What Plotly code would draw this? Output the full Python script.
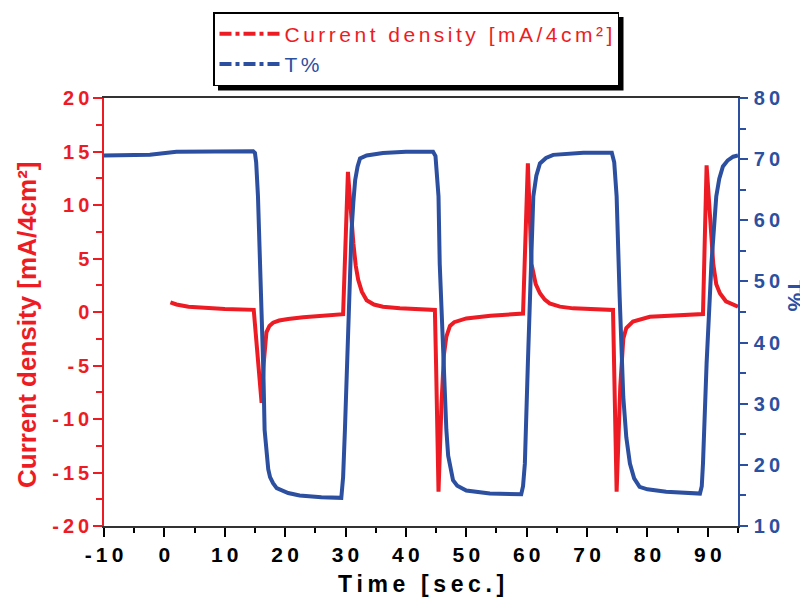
import plotly.graph_objects as go

# Current density [mA/4cm^2] vs time
t_cur = [1.0, 2, 4, 7, 10, 14.8, 16.1, 16.5, 16.9, 17.4, 18.0, 19, 20.5, 23, 26, 29.6,
         30.4, 30.8, 31.3, 31.7, 32.1, 32.7, 33.5, 34.7, 36.2, 39, 44.8,
         45.0, 45.4, 45.9, 46.3, 46.7, 47.3, 48, 50, 54, 59.4,
         60.2, 60.5, 60.8, 61.5, 62.2, 63.0, 63.8, 65.5, 67.7, 74.3,
         74.9, 75.5, 76.0, 76.5, 77.6, 80.4, 85, 89.2,
         89.8, 90.3, 90.9, 91.4, 92.0, 93.0, 94.2, 95]
j_cur = [0.9, 0.7, 0.5, 0.35, 0.28, 0.2, -8.5, -4.5, -1.9, -1.3, -1.0, -0.8, -0.65, -0.5, -0.35, -0.2,
         13.1, 9.5, 6.4, 4.3, 3.0, 1.9, 1.1, 0.7, 0.5, 0.34, 0.19,
         -5, -16.8, -8.5, -4, -2.3, -1.3, -0.95, -0.6, -0.35, -0.15,
         13.9, 8, 4.5, 2.6, 1.75, 1.15, 0.8, 0.5, 0.34, 0.19,
         -16.8, -7, -2.5, -1.5, -0.9, -0.44, -0.3, -0.19,
         13.7, 9, 4.5, 2.6, 1.75, 1.0, 0.65, 0.5]

# Transmittance T% vs time
t_T = [-10, -2.4, 2, 14.7, 15.0, 15.2, 15.5, 15.8, 16.1, 16.4, 16.6, 16.9, 17.2, 17.5, 18.0,
       18.6, 19.5, 20.5, 22.4, 26, 29.3,
       29.6, 29.9, 30.4, 31.0, 31.3, 31.6, 32.0, 32.4, 33.5, 36.2, 40, 44.5,
       44.9, 45.2, 45.4, 45.6, 46.2, 46.7, 47.0, 47.4, 47.8, 48.5, 50, 53.9, 59.1,
       59.4, 59.7, 60.2, 60.8, 61.1, 61.6, 62.2, 63.2, 64.4, 69.4, 74.1,
       74.5, 74.9, 75.4, 76.0, 76.5, 77.1, 77.8, 78.7, 80, 83.1, 88.7,
       89.0, 89.2, 89.8, 90.6, 91.4, 91.9, 92.5, 93.3, 94.2, 95]
T_val = [70.6, 70.7, 71.2, 71.3, 71.0, 69.5, 63.9, 55, 47.5, 35, 25.7, 21.5, 19.3, 18.0, 17.0,
         16.2, 15.8, 15.4, 15.0, 14.7, 14.6,
         18, 25.7, 42, 58.4, 63, 66.6, 68.8, 70.1, 70.6, 71.0, 71.2, 71.2,
         70.5, 67, 63.9, 52.9, 36.6, 25.7, 21.5, 19, 17.5, 16.6, 15.8, 15.3, 15.2,
         16.5, 20.2, 36.6, 58.4, 63.9, 67.3, 69.3, 70.2, 70.7, 71.05, 71.05,
         69.5, 63.9, 47.5, 31.1, 24.5, 20.2, 17.8, 16.4, 16.0, 15.6, 15.3,
         16.5, 20.2, 36.6, 52.9, 63.9, 66.8, 68.8, 69.8, 70.4, 70.6]

x_ticks = [-10, 0, 10, 20, 30, 40, 50, 60, 70, 80, 90]
y1_ticks = [-20, -15, -10, -5, 0, 5, 10, 15, 20]
y2_ticks = [10, 20, 30, 40, 50, 60, 70, 80]

RED = "#ED1C24"
BLUE = "#2C4FA0"
TS = "\u2009"


def spaced(s, sep=TS):
    return sep.join(list(s))


# page offset compensation (body margin 8px): plot box 96..730 x 90..518 in figure px
L, R, T, B = 96, 78, 90, 80
PW, PH = 808 - L - R, 598 - T - B


def px(x):
    return (x - L) / PW


def py(y):
    return (598 - B - y) / PH


FONT = "Liberation Sans, Arial, sans-serif"

fig = go.Figure()
fig.add_trace(go.Scatter(x=t_cur, y=j_cur, mode="lines", line=dict(color=RED, width=4),
                         showlegend=False, yaxis="y"))
fig.add_trace(go.Scatter(x=t_T, y=T_val, mode="lines", line=dict(color=BLUE, width=4),
                         showlegend=False, yaxis="y2"))
fig.add_trace(go.Scatter(x=[None], y=[None], mode="lines", line=dict(color=RED, width=4, dash="dashdot"),
                         name='<span style="color:%s">%s</span>' % (RED, spaced("Current density [mA/4cm²]", "\u2006")),
                         yaxis="y"))
fig.add_trace(go.Scatter(x=[None], y=[None], mode="lines", line=dict(color=BLUE, width=4, dash="dashdot"),
                         name='<span style="color:%s">%s</span>' % (BLUE, spaced("T%", "\u2006")),
                         yaxis="y2"))

fig.update_layout(
    width=808, height=598,
    margin=dict(l=L, r=R, t=T, b=B, autoexpand=False),
    paper_bgcolor="white", plot_bgcolor="white",
    font=dict(family=FONT),
    xaxis=dict(
        range=[-10, 95], showgrid=False, zeroline=False,
        showline=True, linecolor="#333333", linewidth=1.5, mirror=True,
        ticks="outside", ticklen=9, tickwidth=1.5, tickcolor="black",
        tickvals=x_ticks, ticktext=[spaced(str(v)) for v in x_ticks],
        tickfont=dict(size=21, color="black", family=FONT, weight="bold"),
        minor=dict(dtick=5, tick0=-10, ticks="outside", ticklen=5, tickwidth=1.5, tickcolor="black"),
        title=dict(text=spaced("Time [sec.]"), standoff=11,
                   font=dict(size=23, color="black", family=FONT, weight="bold")),
    ),
    yaxis=dict(
        range=[-20, 20], showgrid=False, zeroline=False,
        showline=True, linecolor=RED, linewidth=1.5,
        ticks="outside", ticklen=9, tickwidth=1.5, tickcolor=RED,
        tickvals=y1_ticks, ticktext=[spaced(str(v)) for v in y1_ticks],
        tickfont=dict(size=20, color=RED, family=FONT, weight="bold"),
        minor=dict(dtick=2.5, tick0=-20, ticks="outside", ticklen=6, tickwidth=1.5, tickcolor=RED),
    ),
    yaxis2=dict(
        range=[10, 80], overlaying="y", side="right", showgrid=False, zeroline=False,
        showline=True, linecolor=BLUE, linewidth=1.5,
        ticks="outside", ticklen=8, tickwidth=1.5, tickcolor=BLUE,
        tickvals=y2_ticks, ticktext=[spaced(str(v)) for v in y2_ticks],
        tickfont=dict(size=20, color=BLUE, family=FONT, weight="bold"),
        minor=dict(dtick=5, tick0=10, ticks="outside", ticklen=6, tickwidth=1.5, tickcolor=BLUE),
        ticklabelstandoff=2,
    ),
    legend=dict(
        x=px(205), y=py(4), xanchor="left", yanchor="top",
        bgcolor="white", bordercolor="black", borderwidth=1.5,
        font=dict(size=21, family=FONT), tracegroupgap=0, itemwidth=60,
    ),
    annotations=[
        dict(text="T%", textangle=90, xref="paper", yref="paper",
             x=px(788), y=py(288), xanchor="center", yanchor="middle", showarrow=False,
             font=dict(size=21, color=BLUE, family=FONT, weight="bold")),
        dict(text="Current density [mA/4cm²]", textangle=-90, xref="paper", yref="paper",
             x=px(19), y=py(317), xanchor="center", yanchor="middle", showarrow=False,
             font=dict(size=26, color=RED, family=FONT, weight="bold")),
    ],
    shapes=[
        dict(type="rect", xref="paper", yref="paper",
             x0=px(210), x1=px(615.5), y0=py(82.5), y1=py(9),
             fillcolor="black", line=dict(width=0), layer="above"),
    ],
)

fig.write_html("out.html")
